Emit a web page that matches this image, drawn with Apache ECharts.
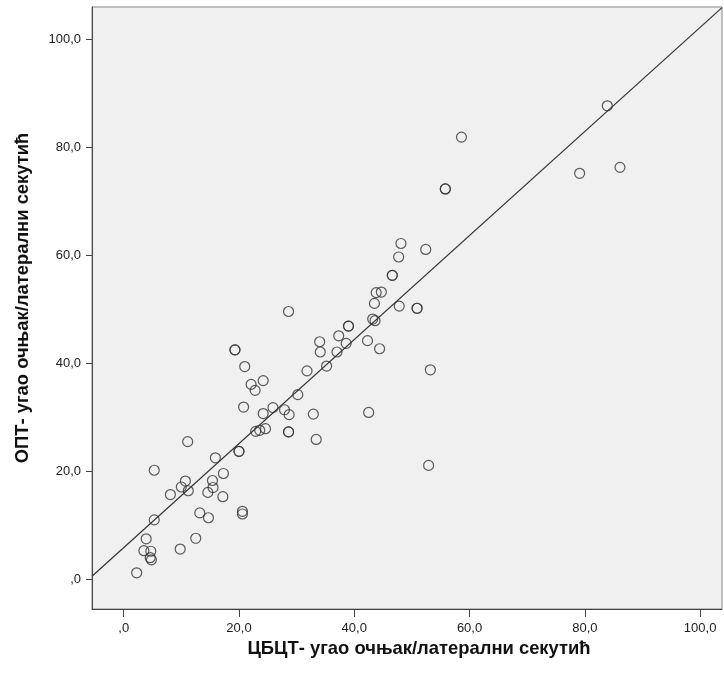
<!DOCTYPE html>
<html>
<head>
<meta charset="utf-8">
<script src="https://cdn.jsdelivr.net/npm/echarts@6/dist/echarts.min.js"></script>
<style>html,body{margin:0;padding:0;background:#fff}#c{width:724px;height:676px}</style>
</head>
<body>
<div id="c"></div>
<script>
var xTitle = 'ЦБЦТ- угао очњак/латерални секутић';
var yTitle = 'ОПТ- угао очњак/латерални секутић';
var tickValues = [0, 20, 40, 60, 80, 100];
var xValues = [83.9,58.6,55.8,55.8,79.1,86.1,48.1,47.7,52.4,46.6,46.6,43.8,44.7,43.5,47.8,50.9,50.9,28.6,43.2,43.6,39.0,39.0,37.3,34.0,34.1,38.6,37.0,42.3,44.4,35.2,31.8,30.2,53.2,24.2,22.1,22.8,24.2,25.9,27.9,28.7,32.9,42.5,22.9,23.6,24.6,28.6,28.6,33.4,19.3,19.3,21.0,20.8,11.1,20.0,20.0,15.9,5.3,17.3,10.7,10.0,11.2,8.1,15.4,15.5,14.6,17.2,20.6,20.6,13.2,14.7,5.3,3.9,12.5,3.5,4.7,4.6,4.8,9.8,2.25,52.9];
var yValues = [87.7,81.9,72.3,72.3,75.2,76.3,62.2,59.7,61.1,56.3,56.3,53.1,53.2,51.1,50.6,50.2,50.2,49.6,48.2,47.9,46.9,46.9,45.1,44.0,42.1,43.7,42.1,44.2,42.7,39.5,38.6,34.2,38.8,36.8,36.1,35.0,30.7,31.8,31.4,30.5,30.6,30.9,27.4,27.6,27.9,27.3,27.3,25.9,42.5,42.5,39.4,31.9,25.5,23.7,23.7,22.5,20.2,19.6,18.2,17.1,16.4,15.7,18.3,17.0,16.1,15.3,12.6,12.1,12.3,11.4,11.0,7.5,7.6,5.3,5.2,4.0,3.6,5.6,1.2,21.1];
var fitIntercept = 5.86;
var fitSlope = 0.9636;
var xMin = -5.5, xMax = 103.8, yMin = -5.5, yMax = 106;

var pts = xValues.map(function (x, i) { return [x, yValues[i]]; });
var lx0 = xMin, ly0 = fitIntercept + fitSlope * xMin;
var lx1 = Math.min(xMax, (yMax - fitIntercept) / fitSlope), ly1 = fitIntercept + fitSlope * lx1;

function fmt(v) { return v === 0 ? ',0' : v.toFixed(1).replace('.', ','); }
var font = 'Liberation Sans, Arial, sans-serif';

var chart = echarts.init(document.getElementById('c'), null, { renderer: 'canvas' });
chart.setOption({
  backgroundColor: '#ffffff',
  animation: false,
  grid: { left: 92, right: 2, top: 7, bottom: 67, show: true, backgroundColor: '#f0f0f0', borderColor: '#888', borderWidth: 1 },
  xAxis: {
    type: 'value', min: xMin, max: xMax,
    name: xTitle, nameLocation: 'middle', nameGap: 27,
    nameTextStyle: { fontFamily: font, fontWeight: 'bold', fontSize: 18.4, color: '#111', padding: [0, 0, 0, 24] },
    axisLine: { show: true, onZero: false, lineStyle: { color: '#444', width: 1 } },
    axisTick: { show: true, inside: false, customValues: tickValues, length: 8, lineStyle: { color: '#444' } },
    axisLabel: { customValues: tickValues, formatter: fmt, margin: 13, fontFamily: font, fontSize: 13, color: '#222' },
    splitLine: { show: false }
  },
  yAxis: {
    type: 'value', min: yMin, max: yMax,
    name: yTitle, nameLocation: 'middle', nameGap: 60, nameRotate: 90,
    nameTextStyle: { fontFamily: font, fontWeight: 'bold', fontSize: 18.4, color: '#111', padding: [0, 0, 0, 20] },
    axisLine: { show: true, onZero: false, lineStyle: { color: '#444', width: 1 } },
    axisTick: { show: true, inside: false, customValues: tickValues, length: 6, lineStyle: { color: '#444' } },
    axisLabel: { customValues: tickValues, formatter: fmt, margin: 11, fontFamily: font, fontSize: 13, color: '#222' },
    splitLine: { show: false }
  },
  series: [
    {
      type: 'line', data: [[lx0, ly0], [lx1, ly1]], symbol: 'none',
      lineStyle: { color: '#333', width: 1.2 }, silent: true, z: 1
    },
    {
      type: 'scatter', data: pts, symbol: 'circle', symbolSize: 10,
      itemStyle: { color: 'rgba(0,0,0,0)', borderColor: '#333', borderWidth: 1.2 }, z: 2
    }
  ]
});
</script>
</body>
</html>
